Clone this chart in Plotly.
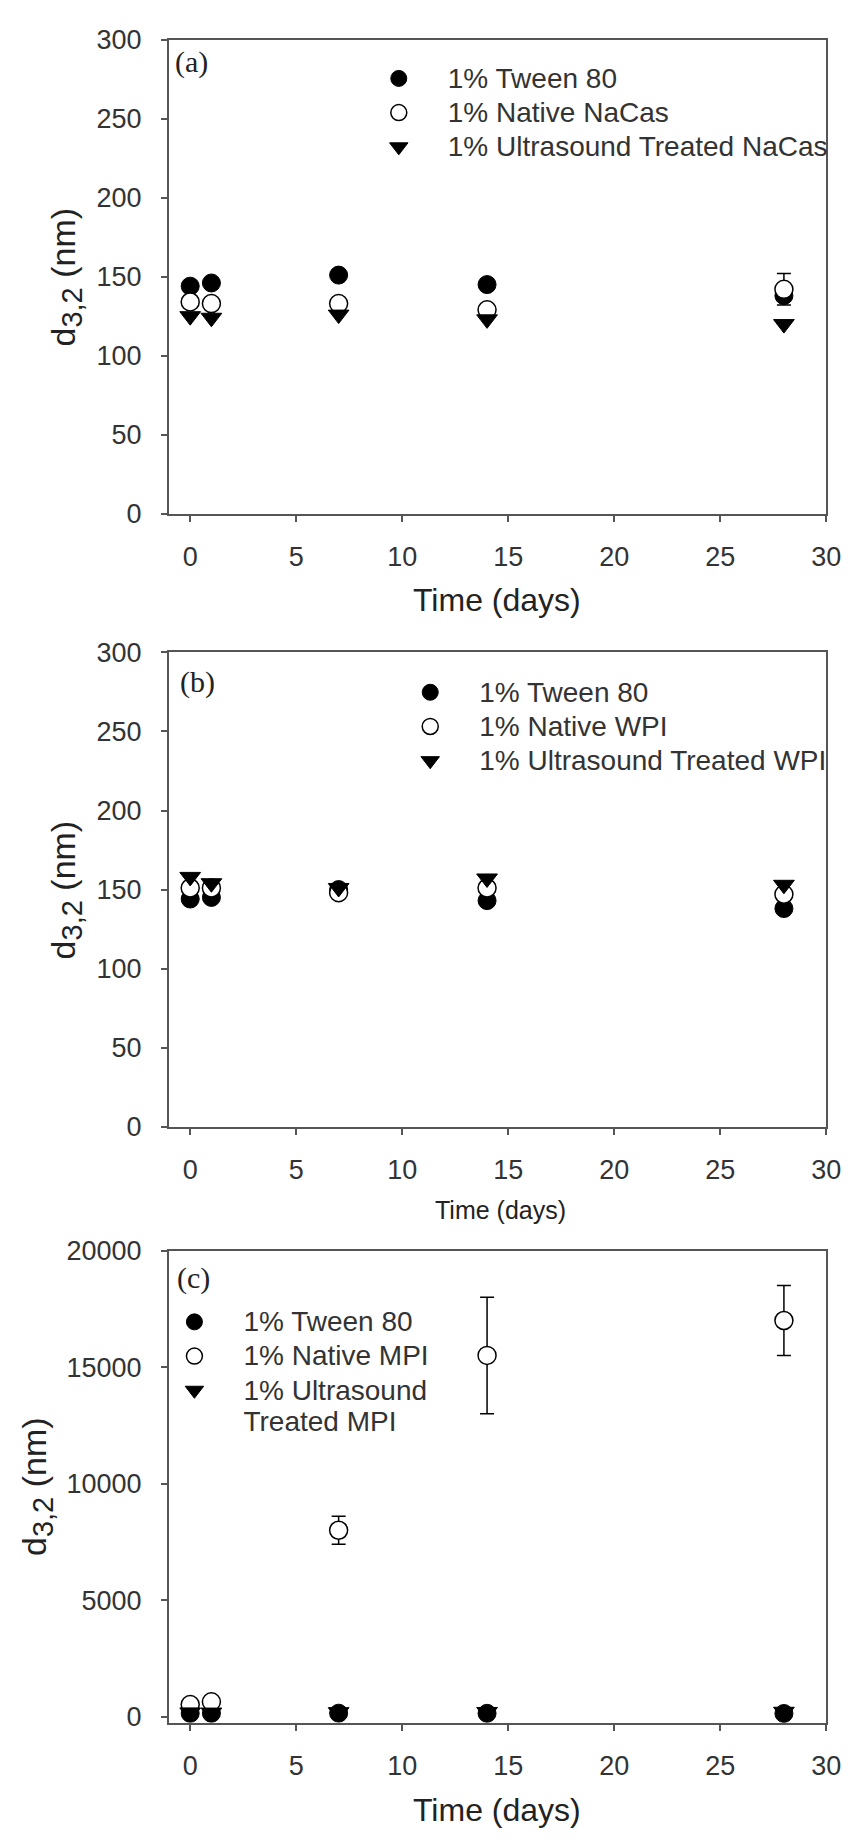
import plotly.graph_objects as go

# ---------------- data ----------------
days = [0, 1, 7, 14, 28]

a_tween = [144, 146, 151, 145, 138]
a_native = [134, 133, 133, 129, 142]
a_native_err = [3, 3, 3, 3, 10]
a_ut = [125, 124, 126, 123, 120]

b_tween = [144, 145, 150, 143, 138]
b_native = [151, 151, 148, 151, 147]
b_native_err = [2, 2, 2, 2, 3]
b_ut = [158, 154, 151, 157, 153]

c_tween = [144, 146, 151, 145, 138]
c_native = [520, 640, 8000, 15500, 17000]
c_native_err = [100, 100, 600, 2500, 1500]
c_ut = [185, 178, 196, 204, 212]

names_a = ["1% Tween 80", "1% Native NaCas", "1% Ultrasound Treated NaCas"]
names_b = ["1% Tween 80", "1% Native WPI", "1% Ultrasound Treated WPI"]
names_c = ["1% Tween 80", "1% Native MPI", ["1% Ultrasound", "Treated MPI"]]

x_ticks = [0, 5, 10, 15, 20, 25, 30]
ya_ticks = [0, 50, 100, 150, 200, 250, 300]
yc_ticks = [0, 5000, 10000, 15000, 20000]

# ---------------- styling ----------------
W, H = 860, 1845
FONT = "Liberation Sans, Arial, sans-serif"
SERIF = "Liberation Serif, Times New Roman, serif"
AXC = "#555555"
MS = 18
LEG_TXT = 28


def px_x(v):
    return v / W


def px_y(v):
    return 1 - v / H


def leg_name(n):
    lines = n if isinstance(n, list) else [n]
    return "<br>".join("<span style='font-size:%dpx'>%s</span>" % (LEG_TXT, s) for s in lines)


fig = go.Figure()


def add_panel(idx, tween, native, native_err, ut, names):
    sfx = "" if idx == 1 else str(idx)
    xa, ya = "x" + sfx, "y" + sfx
    leg = "legend" + sfx
    fig.add_trace(go.Scatter(
        x=days, y=tween, mode="markers", name=leg_name(names[0]), xaxis=xa, yaxis=ya, legend=leg,
        marker=dict(symbol="circle", size=MS, color="black", line=dict(color="black", width=1))))
    fig.add_trace(go.Scatter(
        x=days, y=native, mode="markers", name=leg_name(names[1]), xaxis=xa, yaxis=ya, legend=leg,
        error_y=dict(type="data", array=native_err, visible=True, color="black", thickness=1.5, width=7),
        marker=dict(symbol="circle", size=MS, color="white", line=dict(color="black", width=1.5))))
    fig.add_trace(go.Scatter(
        x=days, y=ut, mode="markers", name=leg_name(names[2]), xaxis=xa, yaxis=ya, legend=leg,
        marker=dict(symbol="triangle-down", size=MS, color="black", line=dict(color="black", width=1))))


add_panel(1, a_tween, a_native, a_native_err, a_ut, names_a)
add_panel(2, b_tween, b_native, b_native_err, b_ut, names_b)
add_panel(3, c_tween, c_native, c_native_err, c_ut, names_c)

xdom = [px_x(172), px_x(841)]
ydoms = [
    [px_y(507), px_y(25)],
    [px_y(1130), px_y(648)],
    [px_y(1736), px_y(1256)],
]


def xaxis_cfg(anchor):
    return dict(domain=xdom, anchor=anchor, range=[-1, 30], tickmode="array", tickvals=x_ticks,
                ticks="outside", ticklen=6, tickwidth=1.5, tickcolor=AXC,
                showline=True, linecolor=AXC, linewidth=2, mirror=True,
                showgrid=False, zeroline=False, ticklabelstandoff=12,
                tickfont=dict(family=FONT, size=27, color="#333333"))


def yaxis_cfg(anchor, dom, rng, ticks):
    return dict(domain=dom, anchor=anchor, range=rng, tickmode="array", tickvals=ticks,
                ticktext=[str(t) for t in ticks],
                ticks="outside", ticklen=6, tickwidth=1.5, tickcolor=AXC,
                showline=True, linecolor=AXC, linewidth=2, mirror=True,
                showgrid=False, zeroline=False, ticklabelstandoff=14,
                tickfont=dict(family=FONT, size=27, color="#333333"))


def legend_cfg(left_px, top_px):
    return dict(x=px_x(left_px), y=px_y(top_px), xanchor="left", yanchor="top",
                bgcolor="rgba(0,0,0,0)", borderwidth=0, itemwidth=88, itemsizing="trace",
                tracegroupgap=0, valign="top", font=dict(family=FONT, size=24, color="#333333"))


annotations = []
# panel labels
for txt, cx, cy in [("(a)", 195, 48), ("(b)", 201, 678), ("(c)", 197, 1284)]:
    annotations.append(dict(text=txt, x=px_x(cx), y=px_y(cy), xref="paper", yref="paper",
                            xanchor="center", yanchor="middle", showarrow=False,
                            font=dict(family=SERIF, size=30, color="#222222")))
# y titles
ytitle = "d<sub><span style='font-size:29px'>3,2</span></sub> (nm)"
for cx, cy in [(67, 266), (67, 889), (37, 1496)]:
    annotations.append(dict(text=ytitle, x=px_x(cx), y=px_y(cy), xref="paper", yref="paper",
                            xanchor="center", yanchor="middle", showarrow=False, textangle=-90,
                            font=dict(family=FONT, size=34, color="#222222")))
# x titles
for cx, cy, fs in [(506, 595, 32), (509, 1215, 25), (506, 1825, 32)]:
    annotations.append(dict(text="Time (days)", x=px_x(cx), y=px_y(cy), xref="paper", yref="paper",
                            xanchor="center", yanchor="middle", showarrow=False,
                            font=dict(family=FONT, size=fs, color="#222222")))

fig.update_layout(
    width=W, height=H,
    margin=dict(l=0, r=0, t=0, b=0),
    paper_bgcolor="white", plot_bgcolor="white",
    showlegend=True,
    xaxis=xaxis_cfg("y"),
    yaxis=yaxis_cfg("x", ydoms[0], [0, 300], ya_ticks),
    xaxis2=xaxis_cfg("y2"),
    yaxis2=yaxis_cfg("x2", ydoms[1], [0, 300], ya_ticks),
    xaxis3=xaxis_cfg("y3"),
    yaxis3=yaxis_cfg("x3", ydoms[2], [-260, 20000], yc_ticks),
    legend=legend_cfg(356, 42),
    legend2=legend_cfg(388, 666),
    legend3=legend_cfg(148, 1306),
    annotations=annotations,
)

fig.write_html("out.html")
